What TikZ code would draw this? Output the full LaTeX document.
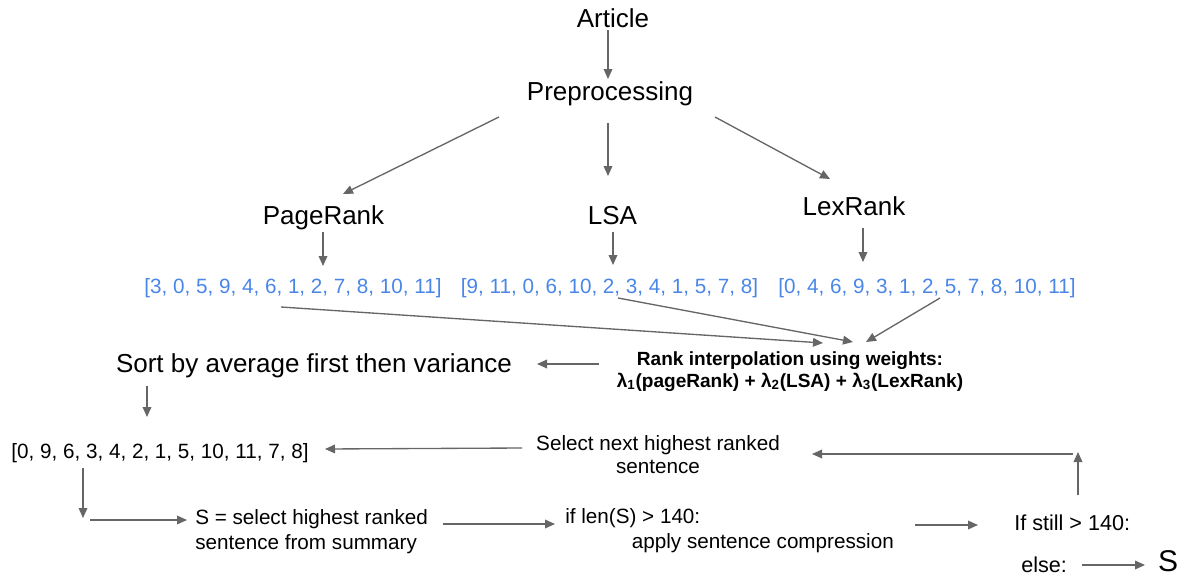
\documentclass[tikz,border=0pt]{standalone}
\usepackage{fontspec}
\setmainfont{Liberation Sans}
\usetikzlibrary{arrows.meta,calc}
\definecolor{arrgray}{HTML}{666666}
\definecolor{listblue}{HTML}{4A86E8}
\tikzset{
  big/.style={inner sep=0pt, anchor=base, font=\fontsize{19.5}{24}\selectfont},
  med/.style={inner sep=0pt, anchor=base, font=\fontsize{15.5}{18}\selectfont},
  lst/.style={med, text=listblue},
  bld/.style={inner sep=0pt, anchor=base, align=center, font=\fontsize{14.3}{16.5}\selectfont\bfseries},
  arr/.style={draw=arrgray, line width=1pt, -{Triangle[length=7.5pt,width=6.5pt]}, arrgray},
}
\begin{document}
\begin{tikzpicture}[x=0.75pt,y=-0.75pt]
\useasboundingbox (0,0) rectangle (1189,575);
% nodes
\node[big] (art) at (613,27) {Article};
\node[big] (pre) at (610,100) {Preprocessing};
\node[big] (pr) at (323.5,224) {PageRank};
\node[big] (lsa) at (612.5,224) {LSA};
\node[big] (lex) at (854,215) {LexRank};
\node[lst] (l1) at (293,293) {[3, 0, 5, 9, 4, 6, 1, 2, 7, 8, 10, 11]};
\node[lst] (l2) at (609.5,293) {[9, 11, 0, 6, 10, 2, 3, 4, 1, 5, 7, 8]};
\node[lst] (l3) at (927,293) {[0, 4, 6, 9, 3, 1, 2, 5, 7, 8, 10, 11]};
\node[bld] (rank) at (790,387) {Rank interpolation using weights:\\
  λ\textsubscript{1}(pageRank) + λ\textsubscript{2}(LSA) + λ\textsubscript{3}(LexRank)};
\node[big] (sort) at (314,372) {Sort by average first then variance};
\node[med] (ord) at (160,458) {[0, 9, 6, 3, 4, 2, 1, 5, 10, 11, 7, 8]};
\node[med, align=center, font=\fontsize{15.5}{17.25}\selectfont] (next) at (658,473) {Select next highest ranked\\sentence};
\node[med, anchor=base west, align=left, font=\fontsize{15.5}{18.75}\selectfont] (sel) at (195,549) {S = select highest ranked\\sentence from summary};
\node[med, anchor=base west, align=left, font=\fontsize{15.5}{18.75}\selectfont] (iflen) at (565,548) {if len(S) > 140:\\\hspace*{50pt}apply sentence compression};
\node[med, anchor=base west, font=\fontsize{16.2}{19}\selectfont] (still) at (1014,530) {If still > 140:};
\node[med, anchor=base west, font=\fontsize{16.2}{19}\selectfont] (els) at (1021,572) {else:};
\node[inner sep=0pt, anchor=base, font=\fontsize{22.5}{27}\selectfont] (sout) at (1168,571) {S};
\coordinate (c1) at (83,518);
\coordinate (c2) at (90,520);
\coordinate (c3) at (1078,452);
\coordinate (c4) at (1073,454);
% connectors
\draw[arr] ($(art.base)+(-5,3)$) -- ($(pre.base)+(-2,-21)$);
\draw[arr] ($(pre.base)+(-111,17)$) -- ($(pr.base)+(19.5,-30)$);
\draw[arr] ($(pre.base)+(-2,23)$) -- ($(lsa.base)+(-4.5,-48)$);
\draw[arr] ($(pre.base)+(105,17)$) -- ($(lex.base)+(-24,-36)$);
\draw[arr] ($(pr.base)+(-0.5,8)$) -- ($(l1.base)+(30,-27)$);
\draw[arr] ($(lsa.base)+(0.5,8)$) -- ($(l2.base)+(3.5,-28)$);
\draw[arr] ($(lex.base)+(9,13)$) -- ($(l3.base)+(-64,-31)$);
\draw[arr] ($(l1.base)+(-12,14)$) -- ($(rank.base)+(33,-44)$);
\draw[arr] ($(l2.base)+(8.5,5)$) -- ($(rank.base)+(63,-45)$);
\draw[arr] ($(l3.base)+(13,5)$) -- ($(rank.base)+(76,-45)$);
\draw[arr] ($(rank.base)+(-191,-23)$) -- ($(sort.base)+(223,-8)$);
\draw[arr] ($(sort.base)+(-167,14)$) -- ($(ord.base)+(-13,-41)$);
\draw[arr] ($(next.base)+(-136,-25)$) -- ($(ord.base)+(165,-9)$);
\draw[arr] ($(ord.base)+(-77,10)$) -- (c1);
\draw[arr] (c2) -- ($(sel.base west)+(-8,-29)$);
\draw[arr] ($(sel.base west)+(248,-25)$) -- ($(iflen.base west)+(-10,-24)$);
\draw[arr] ($(iflen.base west)+(350,-23)$) -- ($(still.base west)+(-36,-5)$);
\draw[arr] ($(still.base west)+(64,-35)$) -- (c3);
\draw[arr] (c4) -- ($(next.base)+(154,-19)$);
\draw[arr] ($(els.base west)+(61,-7)$) -- ($(sout.base)+(-23,-6)$);
\end{tikzpicture}
\end{document}
